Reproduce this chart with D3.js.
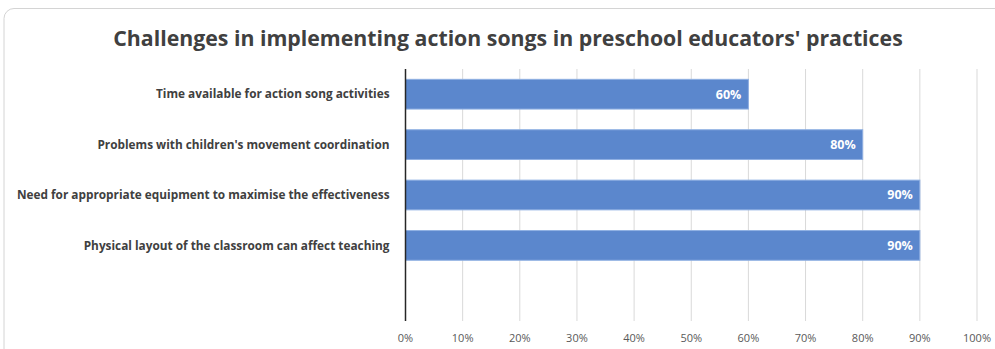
<!DOCTYPE html>
<html lang="en">
<head>
    <meta charset="UTF-8">
    <title>Challenges chart</title>
    <script src="https://cdn.jsdelivr.net/npm/d3@7"></script>
    <style>
        body { margin: 0; background: #fff; }
        text { font-family: "Open Sans", "Liberation Sans", sans-serif; }
    </style>
</head>
<body>
    <div id="chart"></div>
    <script>
        var categories = [
            "Time available for action song activities",
            "Problems with children's movement coordination",
            "Need for appropriate equipment to maximise the effectiveness",
            "Physical layout of the classroom can affect teaching",
            ""
        ];
        var values = [0.60, 0.80, 0.90, 0.90, null];
        var ticks = [0, 0.1, 0.2, 0.3, 0.4, 0.5, 0.6, 0.7, 0.8, 0.9, 1.0];
        var title = "Challenges in implementing action songs in preschool educators' practices";

        var w = 995, h = 349;
        var m = {left: 405.5, right: 18, top: 69, bottom: 28};

        var svg = d3.select("#chart").append("svg")
            .attr("width", w)
            .attr("height", h);

        // frame
        svg.append("rect")
            .attr("x", 4).attr("y", 8.5)
            .attr("width", 1010).attr("height", 360)
            .attr("rx", 10)
            .attr("fill", "#fff")
            .attr("stroke", "#d4d4d4");

        var x = d3.scaleLinear().domain([0, 1]).range([m.left, w - m.right]);
        var y = d3.scaleBand().domain(d3.range(categories.length))
            .range([m.top, h - m.bottom]).paddingInner(0.41).paddingOuter(0.205);

        // gridlines
        svg.append("g")
            .selectAll("line")
            .data(ticks.slice(1))
            .enter().append("line")
            .attr("x1", function(d) { return x(d); })
            .attr("x2", function(d) { return x(d); })
            .attr("y1", m.top)
            .attr("y2", h - m.bottom)
            .attr("stroke", "#d9d9d9")
            .attr("stroke-width", 1);

        // bars
        svg.selectAll(".bar")
            .data(values)
            .enter().filter(function(d) { return d != null; })
            .append("rect")
            .attr("class", "bar")
            .attr("x", x(0))
            .attr("y", function(d, i) { return y(i); })
            .attr("width", function(d) { return x(d) - x(0); })
            .attr("height", y.bandwidth())
            .attr("fill", "#5b87cd")
            .attr("stroke", "#8fb0e3")
            .attr("stroke-width", 1);

        // data labels
        svg.selectAll(".val")
            .data(values)
            .enter().filter(function(d) { return d != null; })
            .append("text")
            .attr("x", function(d) { return x(d) - 7; })
            .attr("y", function(d, i) { return y(i) + y.bandwidth() / 2; })
            .attr("dy", "0.35em")
            .attr("text-anchor", "end")
            .attr("fill", "#fff")
            .attr("font-size", "12.5px")
            .attr("font-weight", "bold")
            .text(function(d) { return Math.round(d * 100) + "%"; });

        // category labels
        var cats = svg.selectAll(".cat")
            .data(categories)
            .enter().append("text")
            .attr("class", "cat")
            .attr("x", m.left - 16)
            .attr("y", function(d, i) { return y(i) + y.bandwidth() / 2; })
            .attr("dy", "0.35em")
            .attr("text-anchor", "end")
            .attr("fill", "#404040")
            .attr("font-size", "11.5px")
            .attr("font-weight", "bold")
            .text(function(d) { return d; });
        var cw = d3.max(cats.nodes(), function(n) { return n.getComputedTextLength(); });
        cats.attr("font-size", (11.5 * 373 / cw) + "px");

        // zero axis line
        svg.append("line")
            .attr("x1", x(0)).attr("x2", x(0))
            .attr("y1", m.top).attr("y2", h - m.bottom)
            .attr("stroke", "#262626")
            .attr("stroke-width", 1.5);

        // tick labels
        svg.selectAll(".tick")
            .data(ticks)
            .enter().append("text")
            .attr("x", function(d) { return x(d); })
            .attr("y", 342)
            .attr("text-anchor", "middle")
            .attr("fill", "#595959")
            .attr("font-size", "11px")
            .text(function(d) { return Math.round(d * 100) + "%"; });

        // title, sized to fit the reference width
        var t = svg.append("text")
            .attr("x", 508)
            .attr("y", 46)
            .attr("text-anchor", "middle")
            .attr("fill", "#404040")
            .attr("font-size", "22px")
            .attr("font-weight", "bold")
            .text(title);
        var tw = t.node().getComputedTextLength();
        t.attr("font-size", (22 * 790 / tw) + "px");
    </script>
</body>
</html>
